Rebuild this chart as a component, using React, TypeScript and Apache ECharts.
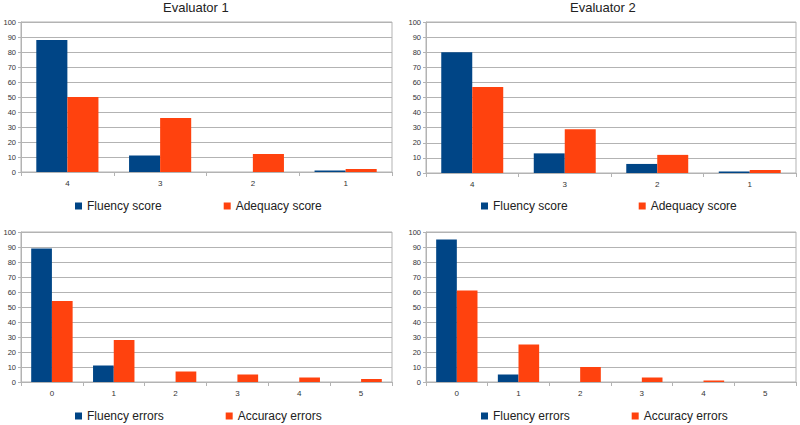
import React, { useEffect, useRef } from "react";
import * as echarts from "echarts";

const scoreCategories = ["4", "3", "2", "1"];
const eval1FluencyScore = [88, 11, 0, 1];
const eval1AdequacyScore = [50, 36, 12, 2];
const eval2FluencyScore = [80, 13, 6, 1];
const eval2AdequacyScore = [57, 29, 12, 2];

const errorCategories = ["0", "1", "2", "3", "4", "5"];
const eval1FluencyErrors = [89, 11, 0, 0, 0, 0];
const eval1AccuracyErrors = [54, 28, 7, 5, 3, 2];
const eval2FluencyErrors = [95, 5, 0, 0, 0, 0];
const eval2AccuracyErrors = [61, 25, 10, 3, 1, 0];

const yTicks = { min: 0, max: 100, interval: 10 };
const titles = ["Evaluator 1", "Evaluator 2"];

const BLUE = "#004586";
const ORANGE = "#ff420e";
const GRID = "#b3b3b3";
const FONT = "Liberation Sans";

export default function App() {
  const ref = useRef<HTMLDivElement>(null);
  useEffect(() => {
    if (!ref.current) return;
    const chart = echarts.init(ref.current, undefined, { renderer: "svg" });

    const grids = [
      { left: 21, top: 22, width: 371, height: 150 },
      { left: 426, top: 22, width: 370, height: 151 },
      { left: 21, top: 232, width: 371, height: 150 },
      { left: 426, top: 232, width: 370, height: 150 },
    ].map((g) => ({ ...g, show: true, borderColor: GRID, borderWidth: 1 }));

    const cats = [scoreCategories, scoreCategories, errorCategories, errorCategories];
    const xAxis = cats.map((c, i) => ({
      type: "category" as const,
      gridIndex: i,
      data: c,
      axisLine: { lineStyle: { color: GRID } },
      axisTick: { show: true, length: 4, lineStyle: { color: GRID } },
      axisLabel: { color: "#333", fontSize: 8, fontFamily: FONT, margin: 7 },
    }));
    const yAxis = cats.map((_, i) => ({
      type: "value" as const,
      gridIndex: i,
      ...yTicks,
      axisLine: { show: true, lineStyle: { color: GRID } },
      axisTick: { show: true, length: 3, lineStyle: { color: GRID } },
      splitLine: { lineStyle: { color: GRID } },
      axisLabel: { color: "#333", fontSize: 7.5, fontFamily: FONT, margin: 5 },
    }));

    const seriesDefs = [
      ["Fluency score", eval1FluencyScore, BLUE, 0],
      ["Adequacy score", eval1AdequacyScore, ORANGE, 0],
      ["Fluency score", eval2FluencyScore, BLUE, 1],
      ["Adequacy score", eval2AdequacyScore, ORANGE, 1],
      ["Fluency errors", eval1FluencyErrors, BLUE, 2],
      ["Accuracy errors", eval1AccuracyErrors, ORANGE, 2],
      ["Fluency errors", eval2FluencyErrors, BLUE, 3],
      ["Accuracy errors", eval2AccuracyErrors, ORANGE, 3],
    ] as const;
    const series = seriesDefs.map(([name, data, color, idx]) => ({
      type: "bar" as const,
      name,
      data: data as unknown as number[],
      xAxisIndex: idx,
      yAxisIndex: idx,
      itemStyle: { color },
      barGap: "0%",
      barCategoryGap: "33%",
    }));

    const legendPos = [
      { left: 75, top: 200, itemGap: 62, data: ["Fluency score", "Adequacy score"] },
      { left: 481, top: 200, itemGap: 71, data: ["Fluency score", "Adequacy score"] },
      { left: 75, top: 410, itemGap: 62, data: ["Fluency errors", "Accuracy errors"] },
      { left: 481, top: 410, itemGap: 62, data: ["Fluency errors", "Accuracy errors"] },
    ];
    const legend = legendPos.map((l) => ({
      ...l,
      padding: 0,
      itemWidth: 7,
      itemHeight: 7,
      icon: "rect",
      selectedMode: false,
      textStyle: { fontSize: 12, fontFamily: FONT, color: "#222" },
    }));

    const title = [
      { text: titles[0], left: 163, top: 1 },
      { text: titles[1], left: 570, top: 1 },
    ].map((t) => ({
      ...t,
      padding: 0,
      textStyle: { fontSize: 13, fontWeight: "normal" as const, fontFamily: FONT, color: "#222" },
    }));

    chart.setOption({
      animation: false,
      backgroundColor: "#fff",
      title,
      legend,
      grid: grids,
      xAxis,
      yAxis,
      series,
    });
    return () => chart.dispose();
  }, []);
  return (
    <div
      ref={ref}
      style={{ position: "fixed", left: 0, top: 0, width: 800, height: 425 }}
    />
  );
}
